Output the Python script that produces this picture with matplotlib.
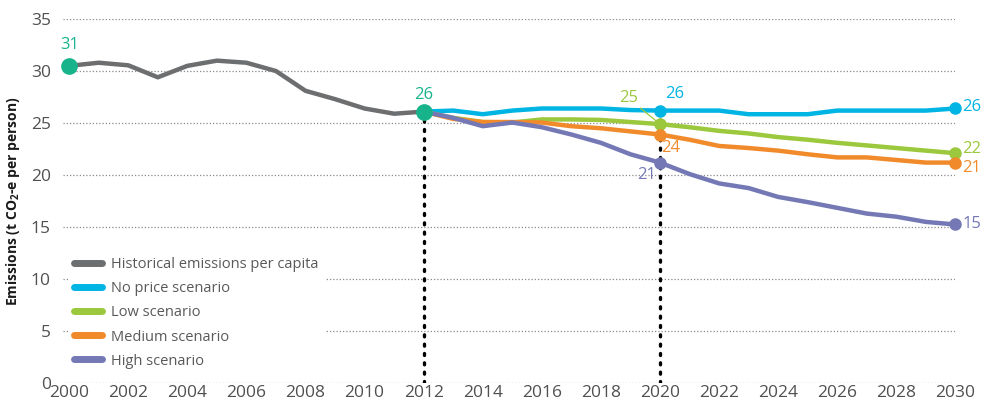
import numpy as np
import matplotlib
matplotlib.use("Agg")
import matplotlib.pyplot as plt

plt.rcParams['font.family'] = ['Open Sans', 'DejaVu Sans']
plt.rcParams['mathtext.default'] = 'regular'

# data
hist_years = list(range(2000, 2013))
hist = [30.5, 30.8, 30.55, 29.4, 30.5, 31.0, 30.8, 30.0, 28.1, 27.3, 26.4, 25.9, 26.1]

scen_years = list(range(2012, 2031))
no_price = [26.1, 26.2, 25.85, 26.2, 26.4, 26.4, 26.4, 26.25, 26.2, 26.2, 26.2,
            25.85, 25.85, 25.85, 26.2, 26.2, 26.2, 26.2, 26.4]
low = [26.1, 25.5, 25.1, 25.05, 25.35, 25.35, 25.3, 25.1, 24.9, 24.6, 24.25,
       24.0, 23.65, 23.4, 23.1, 22.85, 22.6, 22.35, 22.1]
medium = [26.1, 25.4, 25.1, 25.1, 25.05, 24.7, 24.5, 24.2, 23.9, 23.4, 22.8,
          22.6, 22.35, 22.0, 21.7, 21.7, 21.45, 21.2, 21.2]
high = [26.1, 25.5, 24.7, 25.05, 24.6, 23.9, 23.1, 22.0, 21.2, 20.1, 19.2,
        18.75, 17.9, 17.4, 16.85, 16.3, 16.0, 15.5, 15.25]

series_names = ['No price scenario', 'Low scenario', 'Medium scenario', 'High scenario']
series_vals = [no_price, low, medium, high]
series_cols = ['#00b4e4', '#9bc83c', '#f18a2b', '#7479b5']

grey = '#6d6e70'
teal = '#17b48c'
mark_years = [2012, 2020]

fig = plt.figure(figsize=(9.89, 4.05), dpi=100)
ax = fig.add_axes([0.064, 0.054, 0.902, 0.899])

ax.set_xlim(1999.8, 2030)
ax.set_ylim(0, 35)
for s in ax.spines.values():
    s.set_visible(False)
ax.set_yticks(np.arange(0, 36, 5))
ax.set_xticks(np.arange(2000, 2031, 2))
ax.tick_params(length=0, labelsize=12.5, labelcolor='#505052')
ax.tick_params(axis='y', pad=9)
ax.tick_params(axis='x', pad=1)
ax.yaxis.grid(True, color='#8a8a8a', linestyle=(0, (1, 1.6)), linewidth=0.9)
ax.set_axisbelow(True)

ax.set_ylabel('Emissions (t CO$_2$-e per person)', fontsize=10, fontweight='bold',
              color='#1a1a1a', labelpad=6)

# vertical dotted guides
for yr in mark_years:
    if yr == 2012:
        top = hist[hist_years.index(yr)]
    else:
        top = no_price[scen_years.index(yr)]
    ax.plot([yr, yr], [0, top], color='black', linestyle=(0, (0.6, 2.2)),
            linewidth=2.4, dash_capstyle='round', zorder=2)

ax.plot(hist_years, hist, color=grey, linewidth=3.2, solid_joinstyle='round',
        label='Historical emissions per capita', zorder=3)
for name, vals, col in zip(series_names, series_vals, series_cols):
    ax.plot(scen_years, vals, color=col, linewidth=3.2, solid_joinstyle='round',
            label=name, zorder=3, clip_on=False)

# markers at 2020 and 2030
i20 = scen_years.index(2020)
offsets20 = [(4, 6, 'left', 'bottom'), None, (1, -4, 'left', 'top'), (-3, -3, 'right', 'top')]
for vals, col, off in zip(series_vals, series_cols, offsets20):
    ax.plot(2020, vals[i20], 'o', color=col, markersize=8, zorder=5, clip_on=False)
    ax.plot(2030, vals[-1], 'o', color=col, markersize=8, zorder=5, clip_on=False)
    if off is not None:
        ax.annotate(str(int(vals[i20] + 0.5)), (2020, vals[i20]), textcoords='offset points',
                    xytext=off[:2], ha=off[2], va=off[3], color=col, fontsize=12)

# low scenario label with a leader line
ax.annotate(str(int(low[i20] + 0.5)), (2020, low[i20]), textcoords='offset points',
            xytext=(-16, 13), ha='right', va='bottom', color=series_cols[1], fontsize=12,
            arrowprops=dict(arrowstyle='-', color=series_cols[1], lw=0.9,
                            shrinkA=0, shrinkB=3))

end_off = [1, 3, -4, 0]
for vals, col, dy in zip(series_vals, series_cols, end_off):
    ax.annotate(str(int(vals[-1] + 0.5)), (2030, vals[-1]), textcoords='offset points',
                xytext=(5, dy), ha='left', va='center', color=col, fontsize=12,
                annotation_clip=False)

# teal milestone markers
for yr, dy in zip([2000, 2012], [9, 6]):
    v = hist[hist_years.index(yr)]
    ax.plot(yr, v, 'o', color=teal, markersize=11, zorder=6, clip_on=False)
    ax.annotate(str(int(v + 0.5)), (yr, v), textcoords='offset points', xytext=(0, dy),
                ha='center', va='bottom', color=teal, fontsize=12)

leg = ax.legend(loc='lower left', bbox_to_anchor=(0.0, 0.01), frameon=True,
                framealpha=1, facecolor='white', edgecolor='none', fontsize=10.5,
                handlelength=1.9, handletextpad=0.6, labelspacing=0.62,
                borderpad=0.45, borderaxespad=0.3)
for t in leg.get_texts():
    t.set_color('#58595b')
for h in leg.get_lines():
    h.set_linewidth(5)
    h.set_solid_capstyle('round')

fig.savefig('out.png', dpi=100)
